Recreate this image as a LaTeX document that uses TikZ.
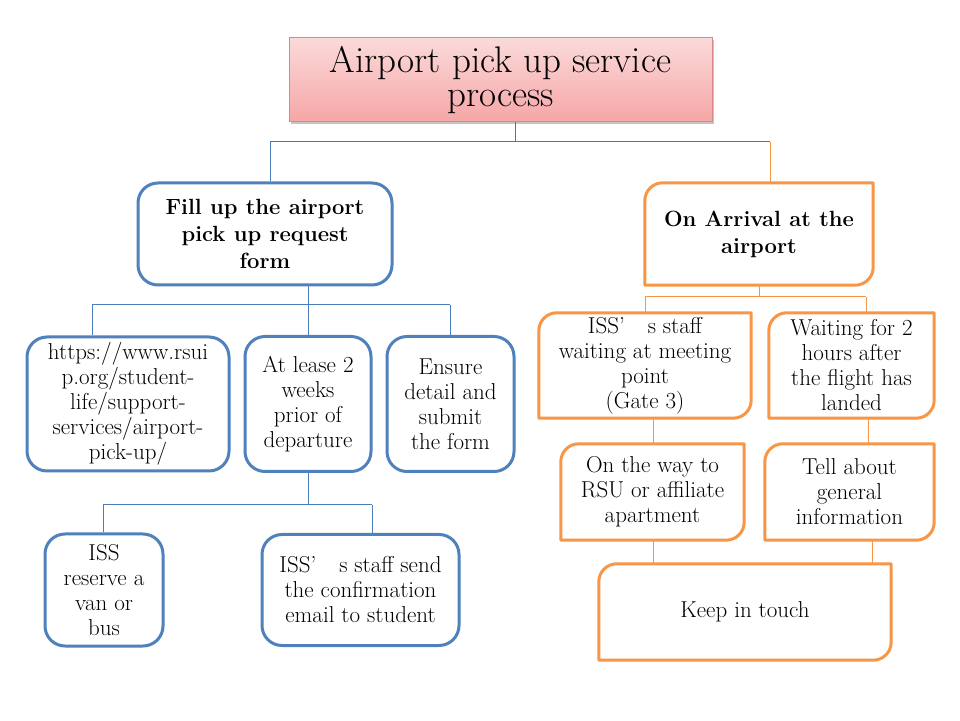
\documentclass[tikz,border=0pt]{standalone}
\usetikzlibrary{calc,shadows}
\definecolor{bl}{HTML}{4F81BD}
\definecolor{blline}{HTML}{4A7EBB}
\definecolor{og}{HTML}{F79646}
\definecolor{rd}{HTML}{C0504D}
\definecolor{pinkT}{HTML}{FBDADA}
\definecolor{pinkB}{HTML}{F6A6A6}
\definecolor{pinkD}{HTML}{D9888A}
\newcommand\fsz[2]{\fontsize{#1}{#2}\selectfont}
\newcommand\obox[2]{\draw[og, line width=3pt, line join=round] (#1.south west) -- ($(#1.north west)+(0,-#2)$) arc[start angle=180,end angle=90,radius=#2] -- (#1.north east) -- ($(#1.south east)+(0,#2)$) arc[start angle=0,end angle=-90,radius=#2] -- cycle;}
\tikzset{
  bbox/.style={draw=bl, line width=3pt, rounded corners=20pt, align=center, inner sep=0pt, font=\fsz{23}{25}},
  obx/.style={draw=none, align=center, inner sep=0pt, font=\fsz{23}{25}},
  titlebox/.style={draw=pinkD, line width=1pt, top color=pinkT, bottom color=pinkB, align=center, inner sep=0pt,
     font=\fsz{37}{34}, drop shadow={shadow xshift=2pt, shadow yshift=-2pt, fill=black!45}},
  rl/.style={draw=rd, line width=1pt},
  bline/.style={draw=blline, line width=1pt},
  oline/.style={draw=og, line width=1pt},
}
\begin{document}
\begin{tikzpicture}[x=1pt,y=1pt]
\useasboundingbox (0,0) rectangle (960,720);
\fill[white] (0,0) rectangle (960,720);
% nodes
\node[titlebox, minimum width=423pt, minimum height=84pt] (title) at (500.5,640) {Airport pick up service\\process};
\node[bbox, minimum width=254pt, minimum height=102pt, font=\bfseries\fsz{22}{27}] (fill) at (265,486) {Fill up the airport\\pick up request\\form};
\node[obx, minimum width=228pt, minimum height=102pt, font=\bfseries\fsz{22}{27}] (arr) at (759,486) {On Arrival at the\\airport};
\node[bbox, minimum width=202pt, minimum height=134pt] (url) at (128,316) {https://www.rsui\\p.org/student-\\life/support-\\services/airport-\\pick-up/};
\node[bbox, minimum width=126pt, minimum height=135pt] (lease) at (308,316) {At lease 2\\weeks\\prior of\\departure};
\node[bbox, minimum width=127pt, minimum height=135pt] (ensure) at (450.5,316) {Ensure\\detail and\\submit\\the form};
\node[bbox, minimum width=118pt, minimum height=112pt] (van) at (104,130) {ISS\\reserve a\\van or\\bus};
\node[bbox, minimum width=197pt, minimum height=111pt] (email) at (360.5,130) {ISS’\quad s staff send\\the confirmation\\email to student};
\node[obx, minimum width=212pt, minimum height=105pt] (gate) at (645,354.5) {ISS’\quad s staff\\waiting at meeting\\point\\(Gate 3)};
\node[obx, minimum width=165pt, minimum height=105pt] (wait) at (851.5,354.5) {Waiting for 2\\hours after\\the flight has\\landed};
\node[obx, minimum width=183pt, minimum height=96pt] (way) at (652.5,228) {On the way to\\RSU or affiliate\\apartment};
\node[obx, minimum width=169pt, minimum height=96pt] (tell) at (849.5,228) {Tell about\\general\\information};
\node[obx, minimum width=292pt, minimum height=96pt] (keep) at (745,108) {Keep in touch};
\obox{arr}{18pt}
\obox{gate}{18pt}
\obox{wait}{18pt}
\obox{way}{18pt}
\obox{tell}{18pt}
\obox{keep}{18pt}
% connectors top
\coordinate (j0) at (515,578);
\coordinate (jl) at (270,578);
\coordinate (jr) at (770,578);
\draw[rl] (title.south -| j0) -- (j0);
\draw[rl] (jl) -- (jr);
\draw[bline] (jl) -- (jl |- fill.north);
\draw[oline] (jr) -- (jr |- arr.north);
% fill bus
\coordinate (f0) at (308,415);
\coordinate (f1) at (92,415);
\coordinate (f3) at (450,415);
\draw[bline] (fill.south -| f0) -- (f0);
\draw[bline] (f1) -- (f3);
\draw[bline] (f1) -- (f1 |- url.north);
\draw[bline] (f0) -- (lease.north);
\draw[bline] (f3) -- (f3 |- ensure.north);
% lease bus
\coordinate (l0) at (308,215);
\coordinate (l1) at (103,215);
\coordinate (l2) at (372,215);
\draw[bline] (lease.south) -- (l0);
\draw[bline] (l1) -- (l2);
\draw[bline] (l1) -- (l1 |- van.north);
\draw[bline] (l2) -- (l2 |- email.north);
% arrival bus
\coordinate (a0) at (759,423);
\coordinate (a1) at (645,423);
\coordinate (a2) at (866,423);
\draw[oline] (arr.south) -- (a0);
\draw[oline] (a1) -- (a2);
\draw[oline] (a1) -- (gate.north);
\draw[oline] (a2) -- (a2 |- wait.north);
% vertical chains
\coordinate (c1) at (653,0);
\coordinate (c2) at (868,0);
\coordinate (c3) at (872,0);
\draw[oline] (gate.south -| c1) -- (way.north -| c1);
\draw[oline] (wait.south -| c2) -- (tell.north -| c2);
\draw[oline] (way.south -| c1) -- (keep.north -| c1);
\draw[oline] (tell.south -| c3) -- (keep.north -| c3);
\end{tikzpicture}
\end{document}
